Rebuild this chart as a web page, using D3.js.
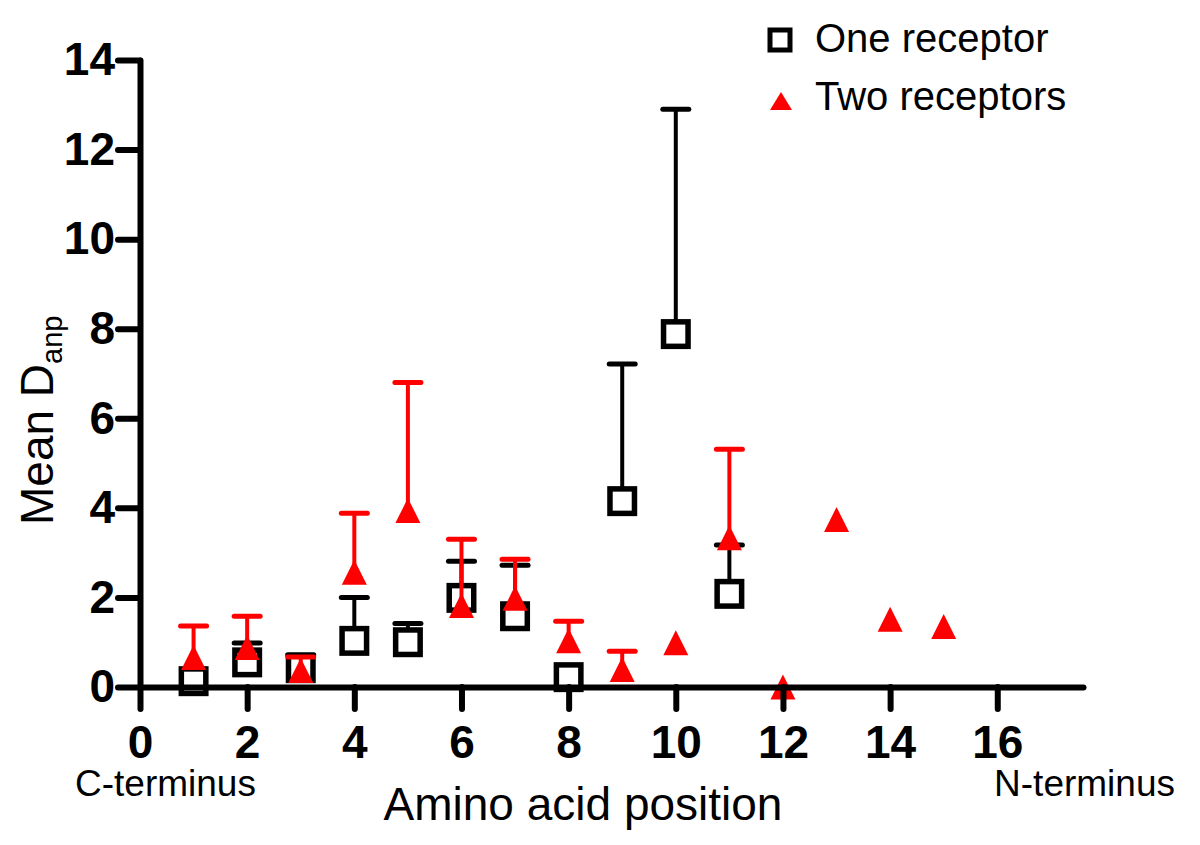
<!DOCTYPE html>
<html>
<head>
<meta charset="utf-8">
<script src="https://cdn.jsdelivr.net/npm/d3@7"></script>
<style>
  html, body { margin: 0; padding: 0; background: #fff; }
  svg { display: block; }
  text { font-family: "Liberation Sans", Arial, Helvetica, sans-serif; }
</style>
</head>
<body>
<svg id="chart" width="1200" height="845"></svg>
<script>
// ---- Data ----
const xTicks = [0, 2, 4, 6, 8, 10, 12, 14, 16];
const yTicks = [0, 2, 4, 6, 8, 10, 12, 14];

const onePositions = [1, 2, 3, 4, 5, 6, 7, 8, 9, 10, 11];
const oneMeans     = [0.13, 0.55, 0.42, 1.03, 1.0, 1.99, 1.58, 0.22, 4.15, 7.88, 2.08];
const oneUpper     = [null, 0.98, 0.72, 2.0, 1.42, 2.81, 2.72, null, 7.21, 12.9, 3.17];

const twoPositions = [1, 2, 3, 4, 5, 6, 7, 8, 9, 10, 11, 12, 13, 14, 15];
const twoMeans     = [0.66, 0.88, 0.37, 2.56, 3.94, 1.82, 1.98, 1.03, 0.39, 0.99, 3.33, 0.0, 3.74, 1.51, 1.35];
const twoUpper     = [1.36, 1.58, 0.67, 3.88, 6.8, 3.3, 2.85, 1.47, 0.8, null, 5.31, null, null, null, null];

const seriesNames = ["One receptor", "Two receptors"];
const xLabel = "Amino acid position";
const leftNote = "C-terminus";
const rightNote = "N-terminus";

// ---- Setup ----
const svg = d3.select("#chart");
const x = d3.scaleLinear().domain([0, 17.6]).range([140, 1083]);
const y = d3.scaleLinear().domain([0, 14]).range([687, 60]);

const RED = "#ff0000";

const one = onePositions.map((p, i) => ({ x: p, m: oneMeans[i], u: oneUpper[i] }));
const two = twoPositions.map((p, i) => ({ x: p, m: twoMeans[i], u: twoUpper[i] }));

function triPath(cx, cy, w, h) {
  return `M${cx},${cy - h / 2}L${cx + w / 2},${cy + h / 2}L${cx - w / 2},${cy + h / 2}Z`;
}

function drawErrors(g, data, color) {
  const d = data.filter(e => e.u != null);
  g.selectAll(null).data(d).enter().append("line")
    .attr("x1", e => x(e.x)).attr("x2", e => x(e.x))
    .attr("y1", e => y(e.m)).attr("y2", e => y(e.u))
    .attr("stroke", color).attr("stroke-width", 4);
  g.selectAll(null).data(d).enter().append("line")
    .attr("x1", e => x(e.x) - 13).attr("x2", e => x(e.x) + 13)
    .attr("y1", e => y(e.u)).attr("y2", e => y(e.u))
    .attr("stroke", color).attr("stroke-width", 5).attr("stroke-linecap", "round");
}

// One receptor (drawn first)
const g1 = svg.append("g");
drawErrors(g1, one, "#000");
g1.selectAll(null).data(one).enter().append("rect")
  .attr("x", e => x(e.x) - 12.25).attr("y", e => y(e.m) - 12.25)
  .attr("width", 24.5).attr("height", 24.5)
  .attr("fill", "#fff").attr("stroke", "#000").attr("stroke-width", 5.5);

// Two receptors
const g2 = svg.append("g");
drawErrors(g2, two, RED);
g2.selectAll(null).data(two).enter().append("path")
  .attr("d", e => triPath(x(e.x), y(e.m), 25, 25))
  .attr("fill", RED);

// ---- Axes (on top) ----
const xAxis = d3.axisBottom(x).tickValues(xTicks).tickSize(22).tickSizeOuter(0).tickPadding(16);
const yAxis = d3.axisLeft(y).tickValues(yTicks).tickSize(22).tickSizeOuter(0).tickPadding(3);

const gx = svg.append("g").attr("transform", `translate(0,${y(0)})`).call(xAxis);
const gy = svg.append("g").attr("transform", `translate(${x(0)},0)`).call(yAxis);

[gx, gy].forEach(g => {
  g.select(".domain").attr("stroke", "#000").attr("stroke-width", 6).attr("stroke-linecap", "round");
  g.selectAll(".tick line").attr("stroke", "#000").attr("stroke-width", 6).attr("stroke-linecap", "round");
  g.selectAll(".tick text")
    .attr("fill", "#000")
    .style("font-family", '"Liberation Sans", Arial, Helvetica, sans-serif')
    .style("font-size", "46px").style("font-weight", "bold");
});

// ---- Axis titles ----
svg.append("text").attr("x", 583).attr("y", 820).attr("text-anchor", "middle")
  .style("font-size", "46px").text(xLabel);
svg.append("text").attr("x", 75).attr("y", 796).attr("text-anchor", "start")
  .style("font-size", "37px").text(leftNote);
svg.append("text").attr("x", 1175).attr("y", 796).attr("text-anchor", "end")
  .style("font-size", "37px").text(rightNote);

const yl = svg.append("text")
  .attr("transform", "translate(53,525) rotate(-90)")
  .attr("text-anchor", "start")
  .style("font-size", "46px");
yl.append("tspan").text("Mean D");
yl.append("tspan").attr("dy", 9).style("font-size", "29px").text("anp");

// ---- Legend ----
const lg = svg.append("g");
lg.append("rect").attr("x", 770).attr("y", 30).attr("width", 20).attr("height", 20)
  .attr("fill", "#fff").attr("stroke", "#000").attr("stroke-width", 5);
lg.append("text").attr("x", 815).attr("y", 52).style("font-size", "40px").text(seriesNames[0]);
lg.append("path").attr("d", triPath(781, 101, 22, 18)).attr("fill", RED);
lg.append("text").attr("x", 815).attr("y", 110).style("font-size", "40px").text(seriesNames[1]);
</script>
</body>
</html>
